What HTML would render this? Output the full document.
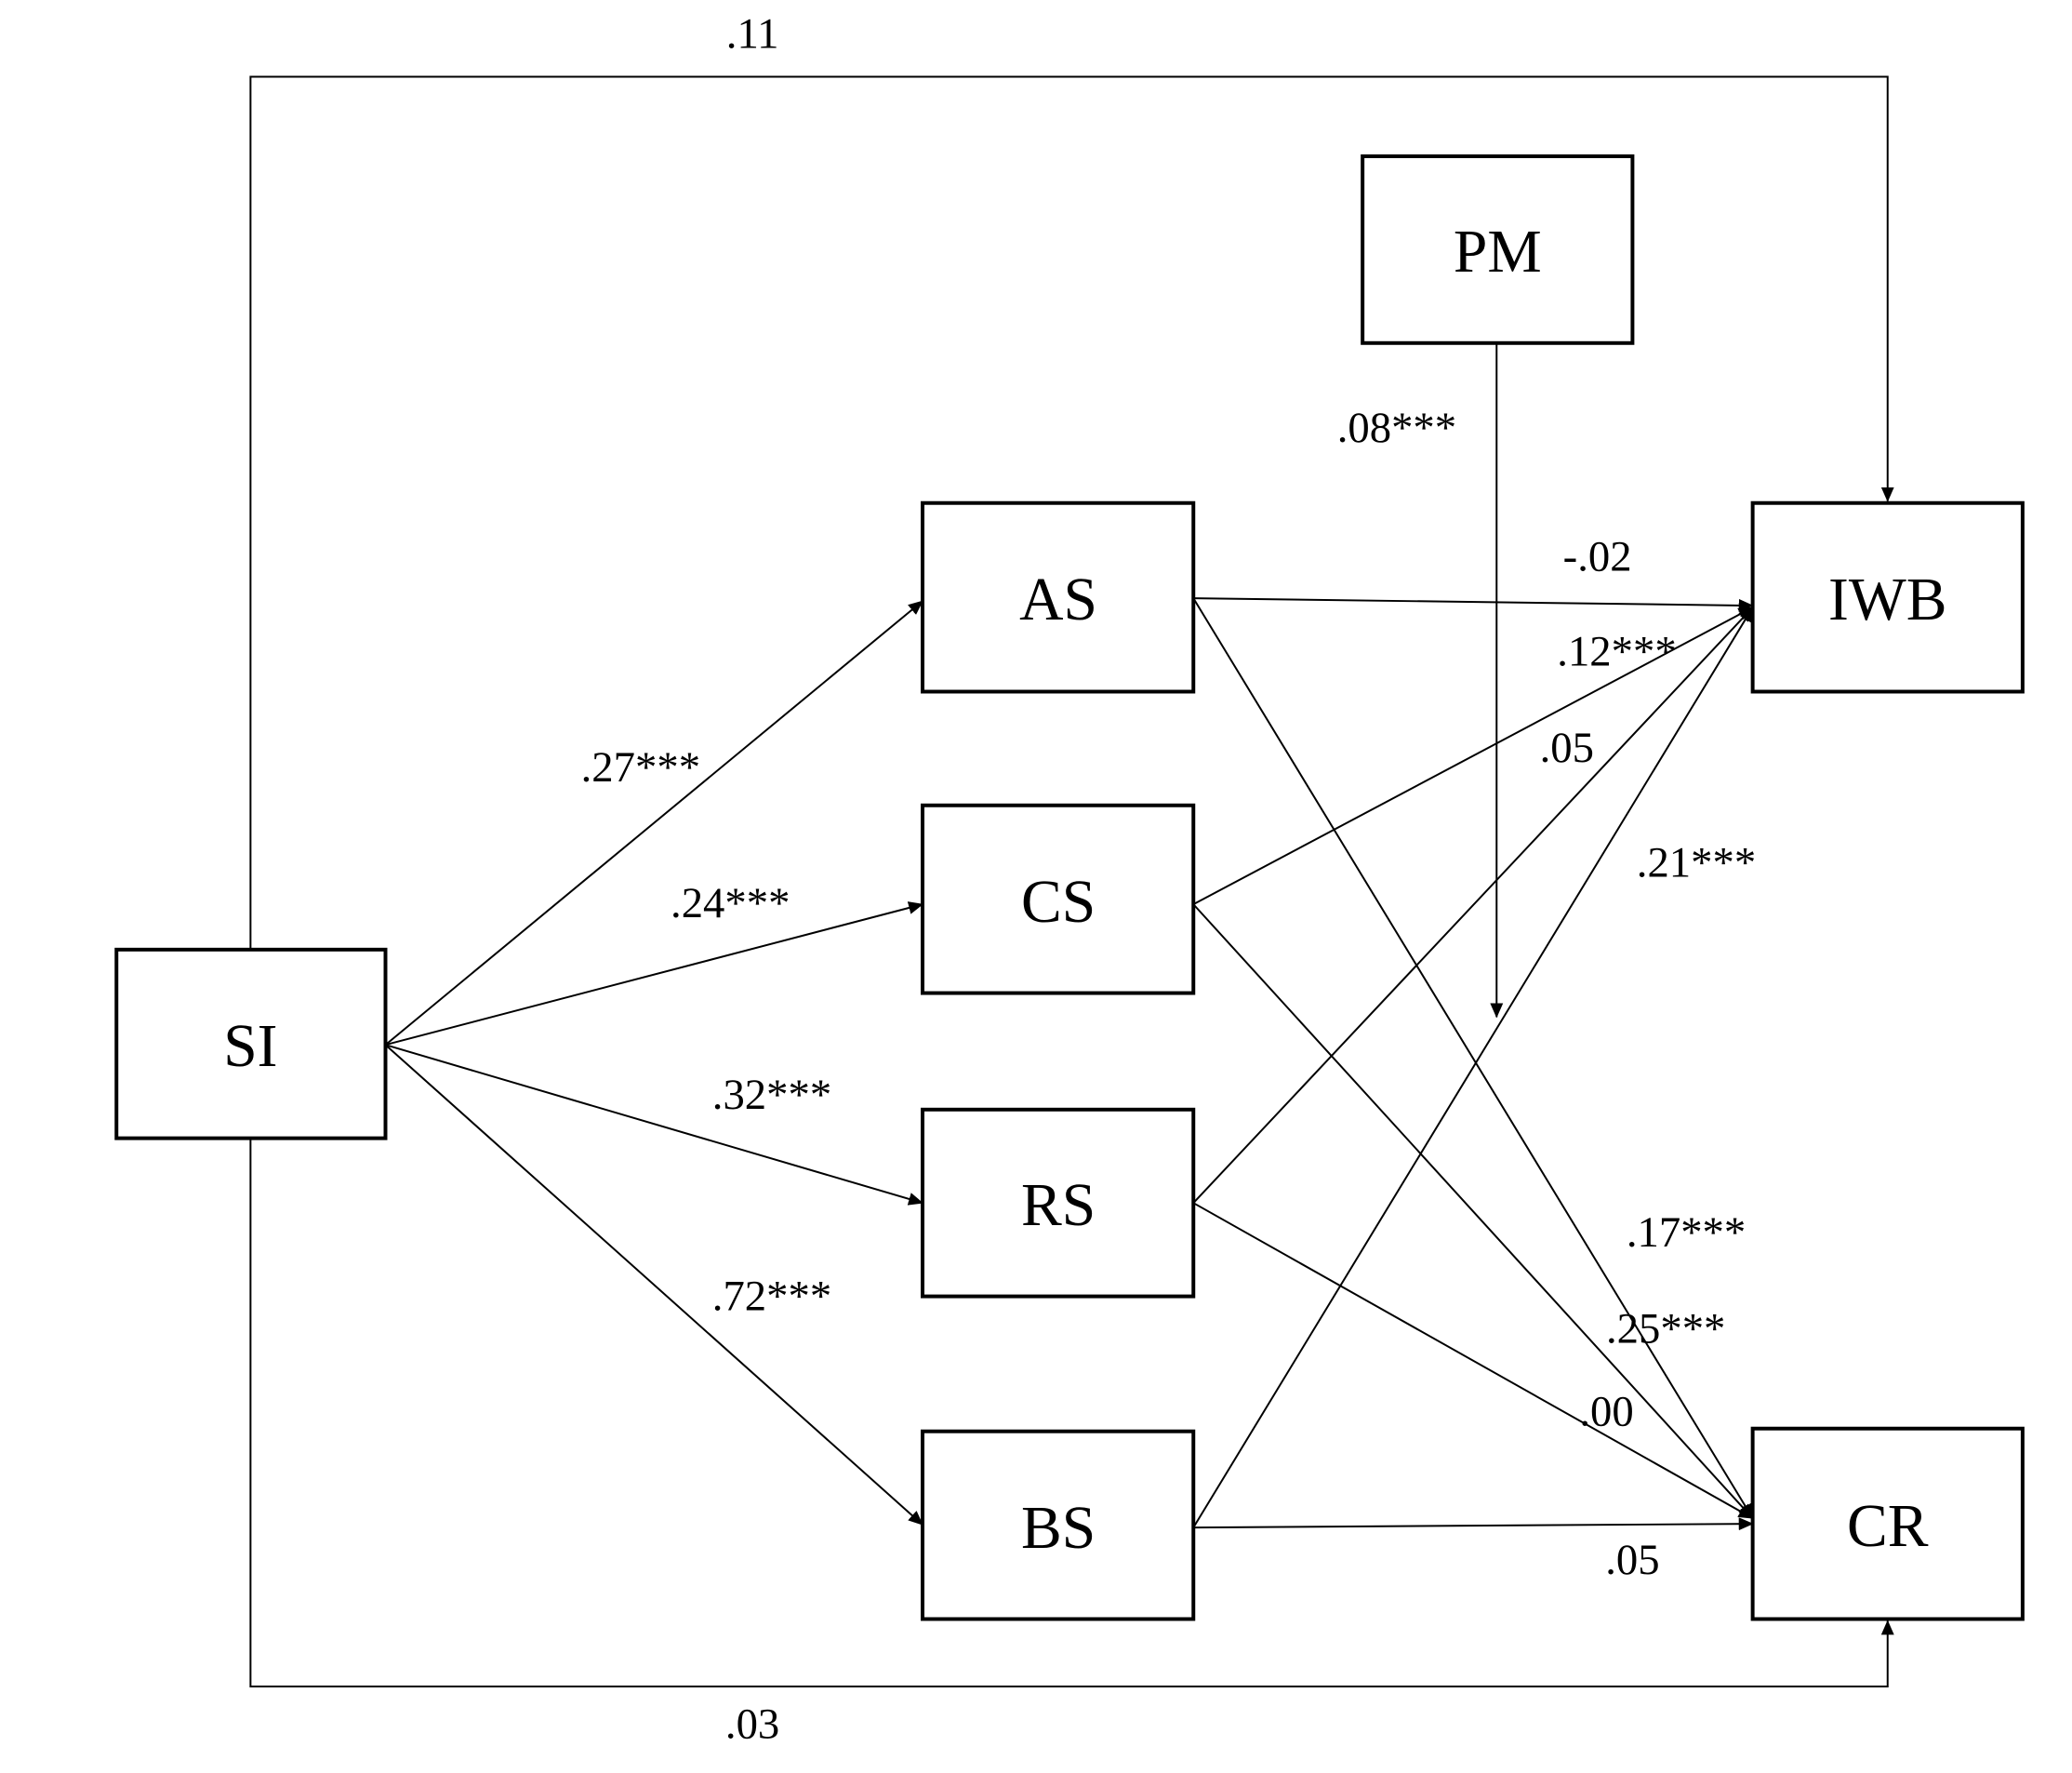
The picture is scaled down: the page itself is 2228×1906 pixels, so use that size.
<!DOCTYPE html>
<html><head><style>
html,body{margin:0;padding:0;background:#fff;}
svg text{font-family:"Liberation Serif",serif;fill:#000;}
</style></head><body>
<svg width="2228" height="1901" viewBox="0 0 2228 1901" xmlns="http://www.w3.org/2000/svg">
<defs>
<marker id="a" markerWidth="16" markerHeight="16" refX="15" refY="8" orient="auto" markerUnits="userSpaceOnUse">
<path d="M0,1 L16,8 L0,15 z" fill="#000"/>
</marker>
</defs>
<g transform="scale(0.994)">
<g stroke="#000" stroke-width="2" fill="none">
<polyline points="271,1027 271,83 2042,83 2042,542" marker-end="url(#a)"/>
<polyline points="271,1231 271,1824 2042,1824 2042,1753" marker-end="url(#a)"/>
<line x1="1619" y1="371" x2="1619" y2="1100" marker-end="url(#a)"/>
<line x1="417" y1="1130" x2="998" y2="650" marker-end="url(#a)"/>
<line x1="417" y1="1130" x2="998" y2="978" marker-end="url(#a)"/>
<line x1="417" y1="1130" x2="998" y2="1301" marker-end="url(#a)"/>
<line x1="417" y1="1130" x2="998" y2="1649" marker-end="url(#a)"/>
<line x1="1291" y1="647" x2="1896" y2="655" marker-end="url(#a)"/>
<line x1="1291" y1="978" x2="1896" y2="657" marker-end="url(#a)"/>
<line x1="1291" y1="1301" x2="1896" y2="657" marker-end="url(#a)"/>
<line x1="1291" y1="1652" x2="1896" y2="657" marker-end="url(#a)"/>
<line x1="1291" y1="647" x2="1896" y2="1642" marker-end="url(#a)"/>
<line x1="1291" y1="978" x2="1896" y2="1642" marker-end="url(#a)"/>
<line x1="1291" y1="1301" x2="1896" y2="1642" marker-end="url(#a)"/>
<line x1="1291" y1="1652" x2="1896" y2="1648" marker-end="url(#a)"/>
</g>
<g stroke="#000" stroke-width="4" fill="#fff">
<rect x="126" y="1027" width="291" height="204"/>
<rect x="998" y="544" width="293" height="204"/>
<rect x="998" y="871" width="293" height="203"/>
<rect x="998" y="1200" width="293" height="202"/>
<rect x="998" y="1548" width="293" height="203"/>
<rect x="1896" y="544" width="292" height="204"/>
<rect x="1896" y="1545" width="292" height="206"/>
<rect x="1474" y="169" width="292" height="202"/>
</g>
<g font-size="66" text-anchor="middle">
<text x="271" y="1153">SI</text>
<text x="1145" y="670">AS</text>
<text x="1145" y="997">CS</text>
<text x="1145" y="1325">RS</text>
<text x="1145" y="1674">BS</text>
<text x="2042" y="670">IWB</text>
<text x="2042" y="1672">CR</text>
<text x="1620" y="294">PM</text>
</g>
<g font-size="47" text-anchor="middle">
<text x="814" y="52">.11</text>
<text x="814" y="1880">.03</text>
<text x="693" y="845">.27***</text>
<text x="790" y="992">.24***</text>
<text x="835" y="1199">.32***</text>
<text x="835" y="1417">.72***</text>
<text x="1511" y="478">.08***</text>
<text x="1728" y="617">-.02</text>
<text x="1749" y="720">.12***</text>
<text x="1695" y="824">.05</text>
<text x="1835" y="948">.21***</text>
<text x="1824" y="1348">.17***</text>
<text x="1802" y="1452">.25***</text>
<text x="1738" y="1542">.00</text>
<text x="1766" y="1702">.05</text>
</g>
</g>
</svg>
</body></html>
